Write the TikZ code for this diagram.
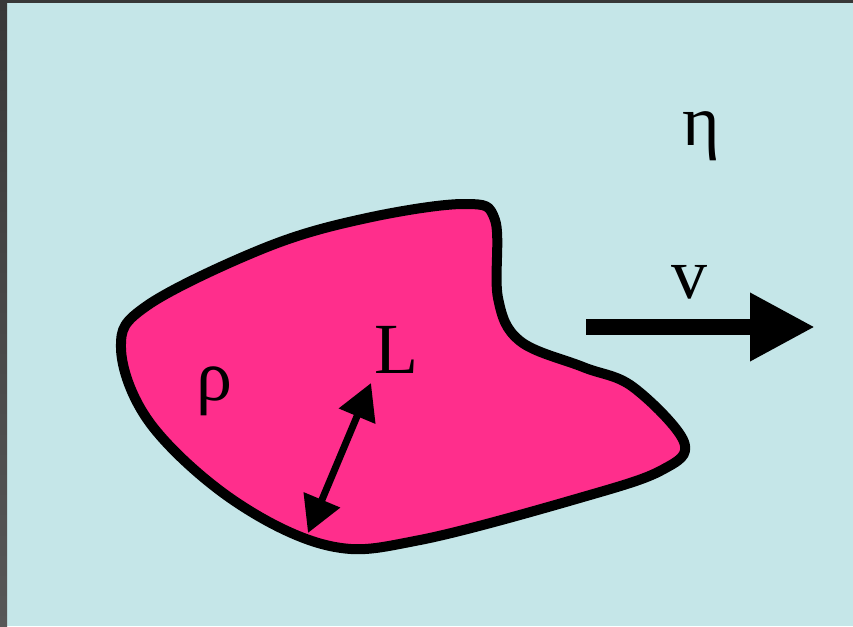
\documentclass[tikz,border=0pt]{standalone}
\usepackage{fontspec}
\setmainfont{Liberation Serif}
\usetikzlibrary{arrows.meta}
\begin{document}
\begin{tikzpicture}[x=1pt, y=-1pt]
	% Define custom colors
	\definecolor{fluid}{RGB}{197, 230, 232}
	\definecolor{body}{RGB}{255, 46, 140}
	\definecolor{frameleft}{RGB}{56, 56, 56}
	\definecolor{frameleftlow}{RGB}{87, 87, 87}
	\tikzset{
		symbol/.style={inner sep=0pt, anchor=base west, font=\fontsize{72}{80}\selectfont},
		outline/.style={line width=10pt, line join=round}
	}
	\useasboundingbox (0, 0) rectangle (853, 626);
	\fill[fluid] (0, 0) rectangle (853, 626);
	\shade[top color=frameleft, bottom color=frameleftlow] (0, 0) rectangle (7, 626);
	\fill[frameleft] (0, 0) rectangle (853, 3);
	% blob
	\filldraw[body, draw=black, outline] plot[smooth cycle, tension=0.6] coordinates {
		(121, 348) (148, 305) (267, 247) (367, 218) (465, 204)
		(495, 220) (498, 298) (520, 341) (583, 367) (633, 387)
		(684, 442) (662, 470) (583, 497) (420, 540) (330, 546)
		(233, 500) (150, 423)};
	% velocity
	\coordinate (vtail) at (586, 327);
	\coordinate (vhead) at (815, 327);
	\draw[line width=16pt, -{Triangle[length=65pt, width=64pt]}] (vtail) -- (vhead);
	% size
	\coordinate (Llow) at (308, 533);
	\coordinate (Lhigh) at (371, 383);
	\draw[line width=7pt, {Triangle[length=36pt, width=38pt]}-{Triangle[length=36pt, width=38pt]}] (Llow) -- (Lhigh);
	% labels
	\node[symbol] (eta) at (682, 145) {η};
	\node[symbol, anchor=base] (vel) at (689, 298) {v};
	\node[symbol] (rho) at (196, 400) {ρ};
	\node[symbol] (len) at (374, 373) {L};
\end{tikzpicture}
\end{document}
